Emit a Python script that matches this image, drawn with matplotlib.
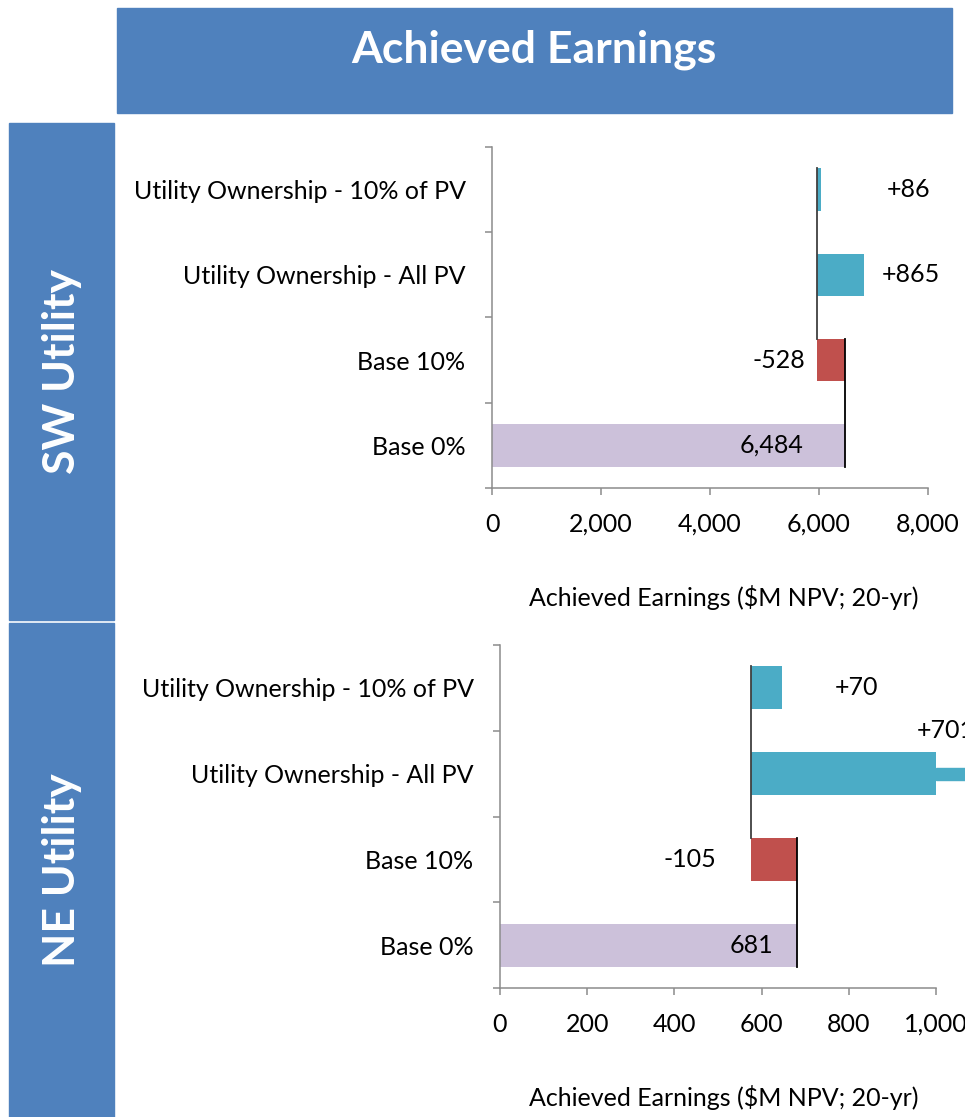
import matplotlib
matplotlib.use("Agg")
import matplotlib.pyplot as plt
from matplotlib.patches import Rectangle

plt.rcParams['font.family'] = ['Lato', 'DejaVu Sans']

categories = ['Base 0%', 'Base 10%', 'Utility Ownership - All PV', 'Utility Ownership - 10% of PV']

sw_base = 6484
sw_steps = [-528, 865, 86]
sw_labels = ['6,484', '-528', '+865', '+86']
sw_ticks = [0, 2000, 4000, 6000, 8000]

ne_base = 681
ne_steps = [-105, 701, 70]
ne_labels = ['681', '-105', '+701', '+70']
ne_ticks = [0, 200, 400, 600, 800, 1000]

BLUE = '#4F81BD'
TEAL = '#4BACC6'
RED = '#C0504D'
LAVENDER = '#CCC1DA'
GRAY = '#8C8C8C'
FS = 18


def waterfall(ax, base, steps, labels, ticks, offsets, xlabel_x):
    xmax = ticks[-1]
    after_cut = base + steps[0]
    lefts = [0, after_cut, after_cut, after_cut]
    widths = [base, -steps[0], steps[1], steps[2]]
    colors = [LAVENDER, RED, TEAL, TEAL]
    h = 0.5
    ax.barh(range(4), widths, left=lefts, height=h, color=colors, zorder=2)

    # connectors
    ax.plot([base, base], [0 - h / 2, 1 + h / 2], color='black', lw=1.3, zorder=3)
    ax.plot([after_cut, after_cut], [1 + h / 2, 3 + h / 2], color='#404040', lw=1.3, zorder=3)

    # off-scale bar continues as a thin stub past the axis end
    for i in range(4):
        end = lefts[i] + widths[i]
        if end > xmax:
            ax.add_patch(Rectangle((xmax, i - 0.07), end - xmax, 0.14, color=colors[i],
                                   clip_on=False, zorder=2))

    ends = [base, after_cut, after_cut + steps[1], after_cut + steps[2]]
    for i, (lab, (dx, dy, ha, yy)) in enumerate(zip(labels, offsets)):
        anchor = after_cut if i == 1 else min(ends[i], xmax)
        ax.annotate(lab, (anchor, i + yy), xytext=(dx, dy), textcoords='offset points',
                    ha=ha, va='center', fontsize=FS, annotation_clip=False)

    ax.set_xlim(0, xmax)
    ax.set_ylim(-0.5, 3.5)
    ax.set_xticks(ticks)
    ax.set_xticklabels([f'{t:,}' for t in ticks], fontsize=FS)
    ax.set_yticks(range(4))
    ax.set_yticklabels(categories, fontsize=FS)
    ax.set_yticks([-0.5, 0.5, 1.5, 2.5, 3.5], minor=True)
    ax.tick_params(axis='y', which='major', length=0, pad=19)
    ax.tick_params(axis='y', which='minor', length=5, width=1.1, color=GRAY)
    ax.tick_params(axis='x', length=5, width=1.1, color=GRAY, pad=13)
    for s in ['top', 'right']:
        ax.spines[s].set_visible(False)
    for s in ['left', 'bottom']:
        ax.spines[s].set_color(GRAY)
        ax.spines[s].set_linewidth(1.1)
    ax.text(xlabel_x, -0.32, 'Achieved Earnings ($M NPV; 20-yr)', transform=ax.transAxes,
            ha='center', va='center', fontsize=FS)


fig = plt.figure(figsize=(9.65, 11.17), dpi=100)
W, H = 965, 1117


def px_rect(x0, y0, x1, y1):
    return (x0 / W, 1 - y1 / H, (x1 - x0) / W, (y1 - y0) / H)


# header and side bands
for (x0, y0, x1, y1) in [(117, 8, 952, 113), (9, 123, 114, 620), (9, 623, 114, 1117)]:
    l, b, w, h = px_rect(x0, y0, x1, y1)
    fig.patches.append(Rectangle((l, b), w, h, transform=fig.transFigure, color=BLUE, zorder=0))
fig.text(534 / W, 1 - 50 / H, 'Achieved Earnings', ha='center', va='center', color='white',
         fontsize=32, fontweight='bold')
fig.text(62 / W, 1 - 371 / H, 'SW Utility', ha='center', va='center', rotation=90,
         color='white', fontsize=32, fontweight='bold')
fig.text(62 / W, 1 - 870 / H, 'NE Utility', ha='center', va='center', rotation=90,
         color='white', fontsize=32, fontweight='bold')

ax1 = fig.add_axes(px_rect(492, 147, 928, 488))
waterfall(ax1, sw_base, sw_steps, sw_labels, sw_ticks,
          [(-30, 0, 'right', 0), (-8, 0, 'right', 0), (13, 0, 'left', 0), (47, 0, 'left', 0)],
          0.532)

ax2 = fig.add_axes(px_rect(500, 645, 936, 988))
waterfall(ax2, ne_base, ne_steps, ne_labels, ne_ticks,
          [(-17, 0, 'right', 0), (-25, 0, 'right', 0), (-14, 0, 'left', 0.5), (38, 0, 'left', 0)],
          0.514)

fig.savefig('out.png', dpi=100)
